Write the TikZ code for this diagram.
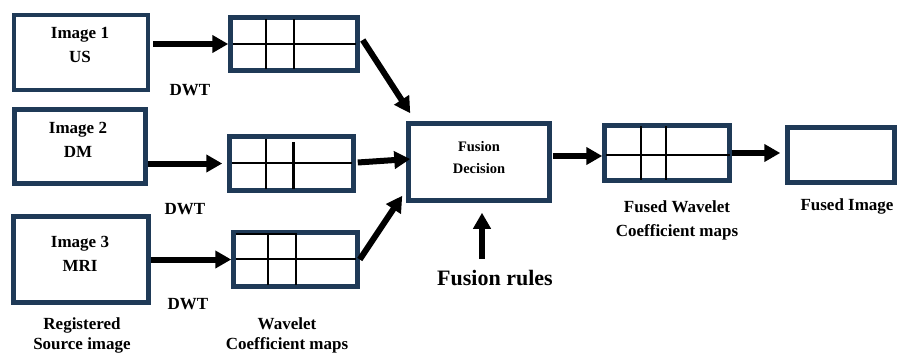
\documentclass[tikz,border=0pt]{standalone}
\usepackage{fontspec}
\setmainfont{Liberation Serif}
\usetikzlibrary{arrows.meta,calc}
\definecolor{boxblue}{HTML}{1F3A57}
\begin{document}
\begin{tikzpicture}[x=1pt,y=-1pt,
  box/.style={draw=boxblue,line width=4.5pt,inner sep=0pt},
  gridln/.style={draw=black,line width=2.5pt},
  arr/.style={line width=6pt,-{Triangle[length=16pt,width=17pt]}},
  lbl/.style={font=\fontsize{17}{24}\selectfont\bfseries,align=center,inner sep=0pt},
  small/.style={font=\fontsize{14.5}{22}\selectfont\bfseries,align=center,inner sep=0pt},
  big/.style={font=\fontsize{22}{26}\selectfont\bfseries,inner sep=0pt},
]
\useasboundingbox[fill=white] (0,0) rectangle (901,353);

% source images
\node[box,minimum width=134pt,minimum height=75pt] (img1) at (81,52.5) {};
\node[box,minimum width=131pt,minimum height=74pt] (img2) at (80,146.5) {};
\node[box,minimum width=135pt,minimum height=86pt] (img3) at (81,259.5) {};
\node[lbl] (t1) at (80,45) {Image 1\\US};
\node[lbl] (t2) at (78,139.5) {Image 2\\DM};
\node[lbl] (t3) at (80,254) {Image 3\\MRI};

% wavelet maps
\node[box,minimum width=127pt,minimum height=53pt] (m1) at (294,44) {};
\node[box,minimum width=124pt,minimum height=54pt] (m2) at (291.5,163.5) {};
\node[box,minimum width=124pt,minimum height=54pt] (m3) at (295.5,259.5) {};

% grid lines in maps
\draw[gridln] (266,19.5) -- (266,68.5) (294,19.5) -- (294,68.5) (232.5,44) -- (355.5,44);
\draw[gridln] (266,138.5) -- (266,188.5) (293.5,142) -- (293.5,188.5) (231.5,163) -- (351.5,163);
\draw[gridln] (236,234) -- (297,234) (268,234) -- (268,284.5) (296,234) -- (296,284.5) (235.5,259) -- (355.5,259);

% fusion decision
\node[box,minimum width=141pt,minimum height=77pt] (fus) at (479,162) {};
\node[small] (tf) at (479,158) {Fusion\\Decision};

% fused map
\node[box,minimum width=125pt,minimum height=55pt] (fm) at (667,153) {};
\draw[gridln] (641,126) -- (641,180) (666,126) -- (666,180) (606,155) -- (730,155);

% fused image
\node[box,minimum width=107pt,minimum height=55pt] (fi) at (841,155) {};

% labels
\node[lbl] (d1) at (190,90) {DWT};
\node[lbl] (d2) at (185,209) {DWT};
\node[lbl] (d3) at (188,304) {DWT};
\node[lbl,font=\fontsize{17}{20}\selectfont\bfseries] (rs) at (82,335) {Registered\\Source image};
\node[lbl,font=\fontsize{17}{20}\selectfont\bfseries] (wc) at (287,335) {Wavelet\\Coefficient maps};
\node[lbl] (fw) at (677,220) {Fused Wavelet\\Coefficient maps};
\node[lbl] (fl) at (847,206) {Fused Image};
\node[big] (rules) at (495,278) {Fusion rules};

% arrows
\draw[arr,shorten <=3pt] (img1.east |- m1.west) -- (m1.west);
\draw[arr,shorten >=5pt] (img2.east |- m2.west) -- (m2.west);
\draw[arr] (img3.east |- m3.west) -- (m3.west);
\draw[arr] ($(m1.east)+(3,-4)$) -- ($(fus.north west)+(4,-8)$);
\draw[arr] ($(m2.east)+(2,-1)$) -- ($(fus.west)+(4,-3)$);
\draw[arr] (m3.east) -- ($(fus.south west)+(-4,-7)$);
\draw[arr] ($(fus.east)+(1,-6)$) -- ($(fm.west)+(0,3)$);
\draw[arr,shorten >=5pt] (fm.east) -- (fm.east -| fi.west);
\draw[arr] ($(fus.south |- rules.north)+(3,-11)$) -- ($(fus.south)+(3,10)$);
\end{tikzpicture}
\end{document}
